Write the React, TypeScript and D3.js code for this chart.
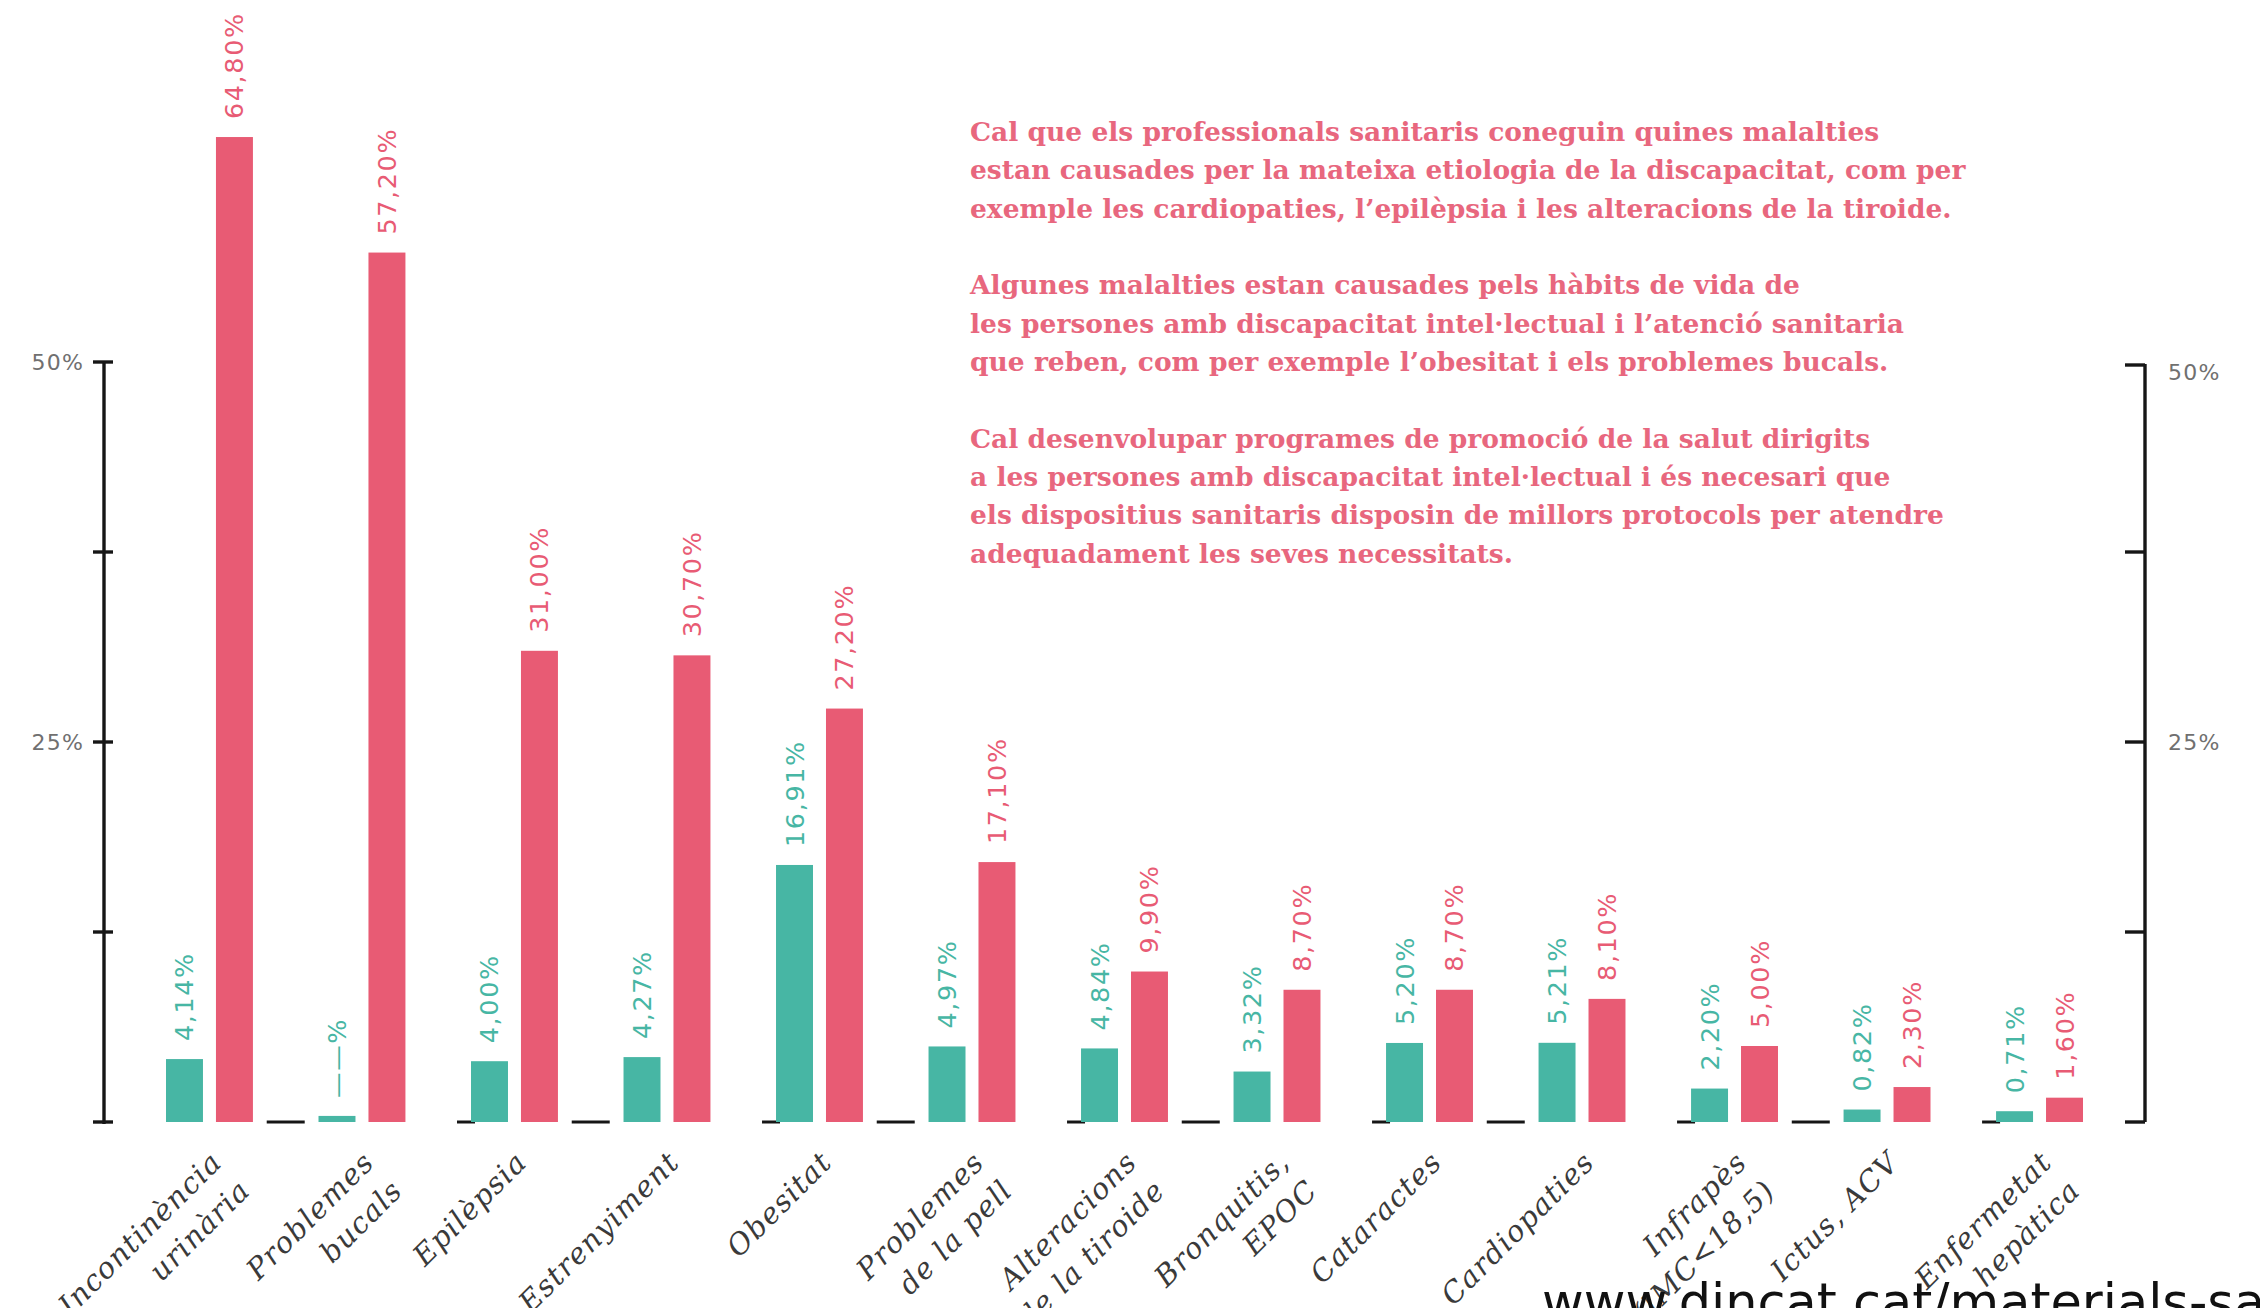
import React from "react";
import * as d3 from "d3";

const categories = [
  ["Incontinència", "urinària"],
  ["Problemes", "bucals"],
  ["Epilèpsia"],
  ["Estrenyiment"],
  ["Obesitat"],
  ["Problemes", "de la pell"],
  ["Alteracions", "de la tiroide"],
  ["Bronquitis,", "EPOC"],
  ["Cataractes"],
  ["Cardiopaties"],
  ["Infrapès", "(IMC<18,5)"],
  ["Ictus, ACV"],
  ["Enfermetat", "hepàtica"],
];

const tealValues = [4.14, 0.4, 4.0, 4.27, 16.91, 4.97, 4.84, 3.32, 5.2, 5.21, 2.2, 0.82, 0.71];
const tealLabels = ["4,14%", "——%", "4,00%", "4,27%", "16,91%", "4,97%", "4,84%", "3,32%", "5,20%", "5,21%", "2,20%", "0,82%", "0,71%"];
const redValues = [64.8, 57.2, 31.0, 30.7, 27.2, 17.1, 9.9, 8.7, 8.7, 8.1, 5.0, 2.3, 1.6];
const redLabels = ["64,80%", "57,20%", "31,00%", "30,70%", "27,20%", "17,10%", "9,90%", "8,70%", "8,70%", "8,10%", "5,00%", "2,30%", "1,60%"];

const yTicks = [0, 12.5, 25, 37.5, 50];
const yTickLabels = [
  { v: 25, t: "25%" },
  { v: 50, t: "50%" },
];

const noteLines = [
  ["Cal que els professionals sanitaris coneguin quines malalties",
   "estan causades per la mateixa etiologia de la discapacitat, com per",
   "exemple les cardiopaties, l’epilèpsia i les alteracions de la tiroide."],
  ["Algunes malalties estan causades pels hàbits de vida de",
   "les persones amb discapacitat intel·lectual i l’atenció sanitaria",
   "que reben, com per exemple l’obesitat i els problemes bucals."],
  ["Cal desenvolupar programes de promoció de la salut dirigits",
   "a les persones amb discapacitat intel·lectual i és necesari que",
   "els dispositius sanitaris disposin de millors protocols per atendre",
   "adequadament les seves necessitats."],
];

const urlText = "www.dincat.cat/materials-salut";

const W = 2260;
const H = 1308;
const TEAL = "#47b6a4";
const RED = "#e85b74";
const NOTE = "#e8677e";
const AXIS = "#161616";

export default function App() {
  const idx = categories.map((_, i) => i);
  const x = d3.scaleBand<number>().domain(idx).range([166, 2083]).paddingInner(0.43).paddingOuter(0).align(0);
  const sub = d3.scaleBand<string>().domain(["teal", "red"]).range([0, x.bandwidth()]).paddingInner(0.26);
  const y = d3.scaleLinear().domain([0, 50]).range([1122, 362]);
  const base = y(0);
  const bw = sub.bandwidth();
  const leftX = 104;
  const rightX = 2145;

  const valFont = { fontFamily: "'DejaVu Sans', sans-serif", fontSize: 25.5, letterSpacing: 1.6 } as const;
  const axFont = { fontFamily: "'DejaVu Sans', sans-serif", fontSize: 22, letterSpacing: 1.2 } as const;

  const dashes: { x1: number; x2: number }[] = [];
  idx.forEach((i) => {
    const g = x(i)!;
    const redEnd = g + sub("red")! + bw;
    if (i % 2 === 0 && i < idx.length - 1) {
      const next = x(i + 1)!;
      const mid = (redEnd + next) / 2;
      dashes.push({ x1: mid - 19, x2: mid + 19 });
    }
    if (i % 2 === 0 && i > 0) {
      dashes.push({ x1: g - 14, x2: g + 4 });
    }
  });

  let noteY = 141;
  const noteRows: { t: string; y: number }[] = [];
  noteLines.forEach((para, pi) => {
    if (pi > 0) noteY += 38.5;
    para.forEach((t) => {
      noteRows.push({ t, y: noteY });
      noteY += 38.3;
    });
  });

  return (
    <svg width={W} height={H} viewBox={`0 0 ${W} ${H}`} style={{ position: "absolute", left: 0, top: 0, display: "block", background: "#fff" }}>
      <rect width={W} height={H} fill="#fff" />

      {/* left axis */}
      <line x1={leftX} x2={leftX} y1={y(50)} y2={base + 2} stroke={AXIS} strokeWidth={3.4} />
      {yTicks.map((t) => (
        <line key={"lt" + t} x1={leftX - 11} x2={leftX + 9} y1={y(t)} y2={y(t)} stroke={AXIS} strokeWidth={3.4} />
      ))}
      {yTickLabels.map((d) => (
        <text key={"ll" + d.v} x={84} y={y(d.v)} textAnchor="end" dominantBaseline="central" fill="#707070" style={axFont}>
          {d.t}
        </text>
      ))}

      {/* right axis */}
      <line x1={rightX} x2={rightX} y1={y(50) + 2} y2={base} stroke={AXIS} strokeWidth={3.4} />
      {yTicks.map((t) => (
        <line key={"rt" + t} x1={rightX - 20} x2={rightX} y1={y(t) + (t === 50 ? 3 : 0)} y2={y(t) + (t === 50 ? 3 : 0)} stroke={AXIS} strokeWidth={3.4} />
      ))}
      {yTickLabels.map((d) => (
        <text key={"rl" + d.v} x={2168} y={y(d.v) + (d.v === 50 ? 10 : 0)} textAnchor="start" dominantBaseline="central" fill="#707070" style={axFont}>
          {d.t}
        </text>
      ))}

      {/* baseline dashes */}
      {dashes.map((d, i) => (
        <line key={"d" + i} x1={d.x1} x2={d.x2} y1={base} y2={base} stroke={AXIS} strokeWidth={3} />
      ))}

      {/* bars */}
      {idx.map((i) => {
        const g = x(i)!;
        const tx = g + sub("teal")!;
        const rx = g + sub("red")!;
        const ty = y(tealValues[i]);
        const ry = y(redValues[i]);
        return (
          <g key={"g" + i}>
            <rect x={tx} y={ty} width={bw} height={base - ty} fill={TEAL} />
            <rect x={rx} y={ry} width={bw} height={base - ry} fill={RED} />
            <text transform={`translate(${tx + bw / 2},${ty - 18}) rotate(-90)`} textAnchor="start" dominantBaseline="central" fill={TEAL} style={valFont}>
              {tealLabels[i]}
            </text>
            <text transform={`translate(${rx + bw / 2},${ry - 18}) rotate(-90)`} textAnchor="start" dominantBaseline="central" fill={RED} style={valFont}>
              {redLabels[i]}
            </text>
            <text transform={`translate(${g + x.bandwidth() / 2 + 14},${base + 42}) rotate(-45)`} textAnchor="end" fill="#3a3a3a" style={{ fontFamily: "'DejaVu Serif', serif", fontStyle: "italic", fontSize: 29, letterSpacing: 1.2 }}>
              {categories[i].map((ln, li) => (
                <tspan key={li} x={0} dy={li === 0 ? 0 : 40}>
                  {ln}
                </tspan>
              ))}
            </text>
          </g>
        );
      })}

      {/* note text */}
      {noteRows.map((r, i) => (
        <text key={"n" + i} x={970} y={r.y} fill={NOTE} style={{ fontFamily: "'DejaVu Serif', serif", fontWeight: "bold", fontSize: 26.5 }}>
          {r.t}
        </text>
      ))}

      {/* url */}
      <text x={1542} y={1320} fill="#111" style={{ fontFamily: "'DejaVu Sans', sans-serif", fontSize: 51 }}>
        {urlText}
      </text>
    </svg>
  );
}
